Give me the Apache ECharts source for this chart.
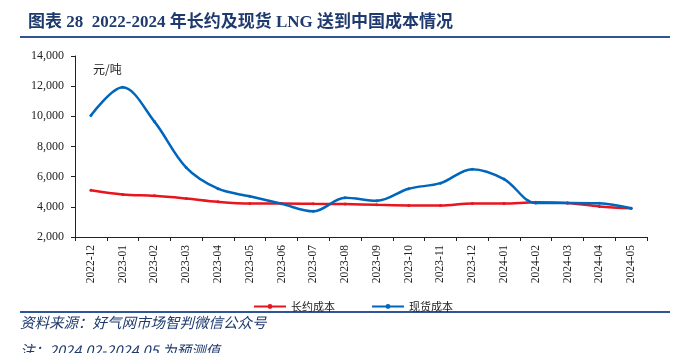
<!DOCTYPE html>
<html>
<head>
<meta charset="utf-8">
<script src="https://cdn.jsdelivr.net/npm/echarts@6/dist/echarts.min.js"></script>
<style>
  html, body { margin: 0; padding: 0; background: #fff; }
  #chart { width: 690px; height: 353px; }
</style>
</head>
<body>
<div id="chart"></div>
<script>
const months = ['2022-12', '2023-01', '2023-02', '2023-03', '2023-04', '2023-05', '2023-06', '2023-07', '2023-08',
  '2023-09', '2023-10', '2023-11', '2023-12', '2024-01', '2024-02', '2024-03', '2024-04', '2024-05']
const longTerm = [5100, 4820, 4730, 4550, 4330, 4220, 4220, 4200, 4180, 4130, 4090, 4090, 4220, 4220, 4300, 4250, 4030, 3900]
const spot = [10050, 11920, 9650, 6600, 5200, 4700, 4200, 3700, 4600, 4400, 5200, 5570, 6500, 5840, 4250, 4250, 4230, 3900]

const serif = '"Liberation Serif", "Times New Roman", "Noto Sans CJK SC", serif'
const cjk = '"Noto Sans CJK SC", "Liberation Serif", serif'

const myChart = echarts.init(document.getElementById('chart'))

const option = {
  animation: false,
  title: {
    text: '图表 28  2022-2024 年长约及现货 LNG 送到中国成本情况',
    left: 23,
    top: 9,
    textStyle: { fontFamily: serif, fontSize: 17, fontWeight: 'bold', color: '#1f3a6e' },
  },
  graphic: [
    { type: 'rect', shape: { x: 20, y: 36, width: 650, height: 2 }, style: { fill: '#2f5597' } },
    { type: 'rect', shape: { x: 20, y: 311, width: 650, height: 2 }, style: { fill: '#2f5597' } },
    {
      type: 'text', left: 93, top: 63,
      style: { text: '元/吨', font: '12px ' + cjk, fill: '#222' },
    },
    {
      type: 'text', left: 20, top: 315,
      style: { text: '资料来源：好气网市场智判微信公众号', font: 'italic 14.5px ' + cjk, fill: '#1f3a6e' },
    },
    {
      type: 'text', left: 20, top: 343,
      style: { text: '注：2024.02-2024.05 为预测值', font: 'italic 14.5px ' + cjk, fill: '#1f3a6e' },
    },
  ],
  legend: {
    top: 296,
    left: 248,
    itemGap: 36,
    itemWidth: 32,
    itemHeight: 6,
    textStyle: { fontFamily: cjk, fontSize: 11, color: '#222' },
    data: ['长约成本', '现货成本'],
  },
  grid: { left: 75, right: 43, top: 56, bottom: 116 },
  xAxis: {
    type: 'category',
    data: months,
    boundaryGap: true,
    axisLine: { lineStyle: { color: '#222', width: 1 } },
    axisTick: { show: true, length: 4, lineStyle: { color: '#222' } },
    axisLabel: { rotate: 90, fontFamily: serif, fontSize: 11.5, color: '#222', margin: 8 },
  },
  yAxis: {
    type: 'value',
    min: 2000,
    max: 14000,
    interval: 2000,
    splitLine: { show: false },
    axisLine: { show: true, lineStyle: { color: '#222', width: 1 } },
    axisTick: { show: true, length: 4, lineStyle: { color: '#222' } },
    axisLabel: {
      fontFamily: serif, fontSize: 12, color: '#222', margin: 11,
      formatter: (v) => v.toLocaleString('en-US'),
    },
  },
  series: [
    {
      name: '长约成本',
      type: 'line',
      data: longTerm,
      smooth: 0.35,
      symbol: 'circle',
      symbolSize: 3,
      lineStyle: { width: 2.5, color: '#e8141e' },
      itemStyle: { color: '#e8141e' },
    },
    {
      name: '现货成本',
      type: 'line',
      data: spot,
      smooth: 0.35,
      symbol: 'circle',
      symbolSize: 3,
      lineStyle: { width: 2.5, color: '#0066bb' },
      itemStyle: { color: '#0066bb' },
    },
  ],
}

myChart.setOption(option)
</script>
</body>
</html>
